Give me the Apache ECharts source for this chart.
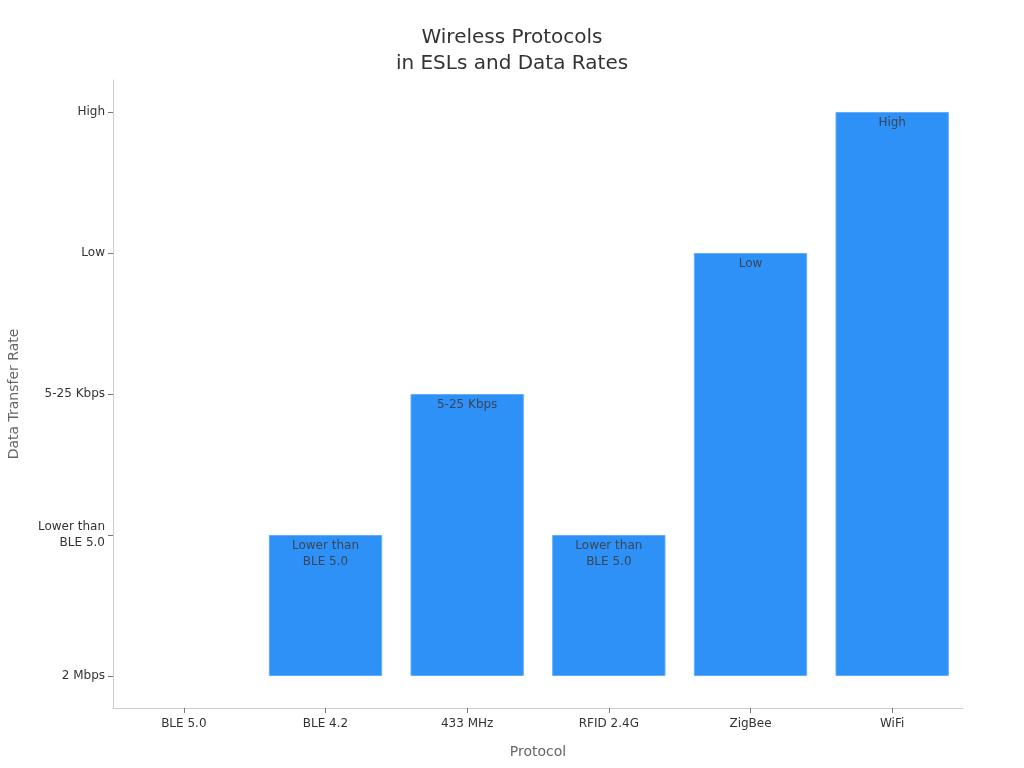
<!DOCTYPE html>
<html style="height: 100%">
<head>
  <meta charset="utf-8">
  <script type="text/javascript" src="https://cdn.jsdelivr.net/npm/echarts@6/dist/echarts.min.js"></script>
</head>
<body style="height: 100%; margin: 0">
  <div id="container" style="width: 1024px; height: 768px"></div>
  <script type="text/javascript">
    var protocols = ['BLE 5.0', 'BLE 4.2', '433 MHz', 'RFID 2.4G', 'ZigBee', 'WiFi'];
    var rateLevels = ['2 Mbps', 'Lower than\nBLE 5.0', '5-25 Kbps', 'Low', 'High'];
    // index into rateLevels for each protocol
    var rateIndex = [0, 1, 2, 1, 3, 4];

    var chart = echarts.init(document.getElementById('container'));
    var font = 'DejaVu Sans';

    // zero-height bar gets no border so nothing is drawn for it
    var barData = rateIndex.map(function (v) {
      return v > 0 ? v : { value: v, itemStyle: { borderWidth: 0 } };
    });

    var option = {
      backgroundColor: '#fff',
      textStyle: { fontFamily: font },
      title: {
        text: 'Wireless Protocols\nin ESLs and Data Rates',
        left: 'center',
        top: 20,
        textStyle: { fontFamily: font, fontSize: 20, fontWeight: 'normal', color: '#333', lineHeight: 26 }
      },
      grid: { left: 113, right: 61, top: 80, bottom: 60, outerBoundsMode: 'none', containLabel: false },
      xAxis: {
        type: 'category',
        data: protocols,
        name: 'Protocol',
        nameLocation: 'middle',
        nameGap: 37,
        nameTextStyle: { fontFamily: font, fontSize: 14, color: '#666' },
        axisLine: { onZero: false, lineStyle: { color: '#ccc' } },
        axisTick: { show: true, alignWithLabel: true, length: 5, lineStyle: { color: '#777' } },
        axisLabel: { fontFamily: font, fontSize: 12, color: '#333', margin: 10 }
      },
      yAxis: {
        type: 'value',
        min: -0.227,
        max: 4.227,
        name: 'Data Transfer Rate',
        nameLocation: 'middle',
        nameGap: 92,
        nameTextStyle: { fontFamily: font, fontSize: 14, color: '#666' },
        splitLine: { show: false },
        axisLine: { show: true, lineStyle: { color: '#ccc' } },
        axisTick: { show: true, length: 5, customValues: [0, 1, 2, 3, 4], lineStyle: { color: '#777' } },
        axisLabel: {
          customValues: [0, 1, 2, 3, 4],
          fontFamily: font,
          fontSize: 12,
          color: '#333',
          margin: 8,
          lineHeight: 16,
          align: 'right',
          formatter: function (v) { return rateLevels[Math.round(v)]; }
        }
      },
      series: [{
        type: 'bar',
        data: barData,
        barWidth: '80%',
        itemStyle: { color: '#2E91F8', borderColor: '#62AEFA', borderWidth: 1 },
        label: {
          show: true,
          position: 'insideTop',
          distance: 3,
          fontFamily: font,
          fontSize: 12,
          color: '#3a4656',
          lineHeight: 16,
          formatter: function (p) { return p.value > 0 ? rateLevels[p.value] : ''; }
        }
      }]
    };
    chart.setOption(option);
  </script>
</body>
</html>
